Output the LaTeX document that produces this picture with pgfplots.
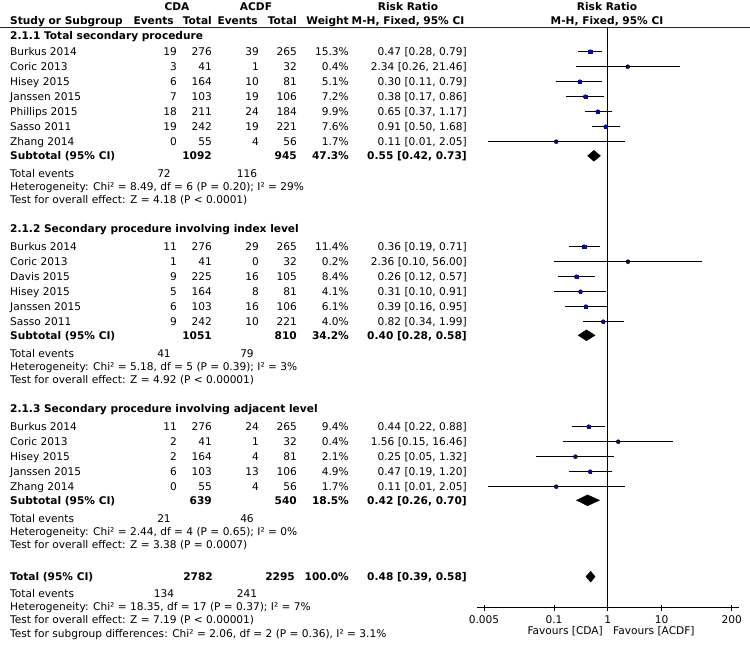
\documentclass[border=0pt]{standalone}
\usepackage{pgfplots}
\pgfplotsset{compat=1.18}
\usepackage{pgfplotstable}
\usepackage{fontspec}
\setmainfont{DejaVu Sans}
\definecolor{sqc}{RGB}{10,10,165}
\newcommand\fs{\fontsize{10.6bp}{12.5bp}\selectfont}

\pgfplotstableread{
y lo est hi w
51.7 0.28 0.47 0.79 15.3
66.7 0.26 2.34 21.46 0.4
81.7 0.11 0.30 0.79 5.1
96.7 0.17 0.38 0.86 7.2
111.7 0.37 0.65 1.17 9.9
126.7 0.50 0.91 1.68 7.6
141.7 0.0059 0.11 2.05 1.7
246.7 0.19 0.36 0.71 11.4
261.7 0.0995 2.36 56.00 0.2
276.7 0.12 0.26 0.57 8.4
291.7 0.10 0.31 0.91 4.1
306.7 0.16 0.39 0.95 6.1
321.7 0.34 0.82 1.99 4.0
426.7 0.22 0.44 0.88 9.4
441.7 0.148 1.56 16.46 0.4
456.7 0.047 0.25 1.32 2.1
471.7 0.19 0.47 1.20 4.9
486.7 0.0059 0.11 2.05 1.7
}\studies

\newcommand\srow[8]{%
 \node[L] at (10,#1) {#2};
 \node[R] at (177,#1) {#3};
 \node[R] at (212,#1) {#4};
 \node[R] at (259,#1) {#5};
 \node[R] at (297,#1) {#6};
 \node[R] at (349,#1) {#7\%};
 \node[R] at (467,#1) {#8};}
\newcommand\subrow[6]{%
 \node[L,font=\fs\bfseries] at (10,#1) {Subtotal (95\% CI)};
 \node[R,font=\fs\bfseries] at (212,#1) {#2};
 \node[R,font=\fs\bfseries] at (297,#1) {#3};
 \node[R,font=\fs\bfseries] at (349,#1) {#4\%};
 \node[R,font=\fs\bfseries] at (467,#1) {#5 [#6]};}
\newcommand\evrow[3]{%
 \node[L] at (10,#1) {Total events};
 \node[C] at (164,#1) {#2};
 \node[C] at (247,#1) {#3};}

\begin{document}
\begin{tikzpicture}[font=\fs]
\path[use as bounding box] (0,0) rectangle (750bp,-645bp);
\begin{scope}[x=1bp,y=-1bp,
  L/.style={anchor=west,inner sep=0pt,text height=7.4bp,text depth=0pt},
  R/.style={anchor=east,inner sep=0pt,text height=7.4bp,text depth=0pt},
  C/.style={anchor=center,inner sep=0pt,text height=7.4bp,text depth=0pt}]
% header
\node[C,font=\fs\bfseries] at (177,7) {CDA};
\node[C,font=\fs\bfseries] at (256,7) {ACDF};
\node[C,font=\fs\bfseries] at (408,7) {Risk Ratio};
\node[C,font=\fs\bfseries] at (607,7) {Risk Ratio};
\node[L,font=\fs\bfseries] at (10,21) {Study or Subgroup};
\node[R,font=\fs\bfseries] at (174,21) {Events};
\node[R,font=\fs\bfseries] at (212,21) {Total};
\node[R,font=\fs\bfseries] at (258,21) {Events};
\node[R,font=\fs\bfseries] at (297,21) {Total};
\node[R,font=\fs\bfseries] at (349,21) {Weight};
\node[C,font=\fs\bfseries] at (408,21) {M-H, Fixed, 95\% CI};
\node[C,font=\fs\bfseries] at (607,21) {M-H, Fixed, 95\% CI};
\draw[line width=0.9bp,black!85] (0,27.7) -- (750,27.7);
% section 1
\node[L,font=\fs\bfseries] at (10,36) {2.1.1 Total secondary procedure};
\srow{51.7}{Burkus 2014}{19}{276}{39}{265}{15.3}{0.47 [0.28, 0.79]}
\srow{66.7}{Coric 2013}{3}{41}{1}{32}{0.4}{2.34 [0.26, 21.46]}
\srow{81.7}{Hisey 2015}{6}{164}{10}{81}{5.1}{0.30 [0.11, 0.79]}
\srow{96.7}{Janssen 2015}{7}{103}{19}{106}{7.2}{0.38 [0.17, 0.86]}
\srow{111.7}{Phillips 2015}{18}{211}{24}{184}{9.9}{0.65 [0.37, 1.17]}
\srow{126.7}{Sasso 2011}{19}{242}{19}{221}{7.6}{0.91 [0.50, 1.68]}
\srow{141.7}{Zhang 2014}{0}{55}{4}{56}{1.7}{0.11 [0.01, 2.05]}
\subrow{155.8}{1092}{945}{47.3}{0.55}{0.42, 0.73}
\evrow{173.3}{72}{116}
\node[L] at (10,186.7) {Heterogeneity: Chi² = 8.49, df = 6 (P = 0.20); I² = 29\%};
\node[L] at (10,200) {Test for overall effect: Z = 4.18 (P < 0.0001)};
% section 2
\node[L,font=\fs\bfseries] at (10,228.3) {2.1.2 Secondary procedure involving index level};
\srow{246.7}{Burkus 2014}{11}{276}{29}{265}{11.4}{0.36 [0.19, 0.71]}
\srow{261.7}{Coric 2013}{1}{41}{0}{32}{0.2}{2.36 [0.10, 56.00]}
\srow{276.7}{Davis 2015}{9}{225}{16}{105}{8.4}{0.26 [0.12, 0.57]}
\srow{291.7}{Hisey 2015}{5}{164}{8}{81}{4.1}{0.31 [0.10, 0.91]}
\srow{306.7}{Janssen 2015}{6}{103}{16}{106}{6.1}{0.39 [0.16, 0.95]}
\srow{321.7}{Sasso 2011}{9}{242}{10}{221}{4.0}{0.82 [0.34, 1.99]}
\subrow{335.3}{1051}{810}{34.2}{0.40}{0.28, 0.58}
\evrow{353.3}{41}{79}
\node[L] at (10,366.7) {Heterogeneity: Chi² = 5.18, df = 5 (P = 0.39); I² = 3\%};
\node[L] at (10,380) {Test for overall effect: Z = 4.92 (P < 0.00001)};
% section 3
\node[L,font=\fs\bfseries] at (10,408.3) {2.1.3 Secondary procedure involving adjacent level};
\srow{426.7}{Burkus 2014}{11}{276}{24}{265}{9.4}{0.44 [0.22, 0.88]}
\srow{441.7}{Coric 2013}{2}{41}{1}{32}{0.4}{1.56 [0.15, 16.46]}
\srow{456.7}{Hisey 2015}{2}{164}{4}{81}{2.1}{0.25 [0.05, 1.32]}
\srow{471.7}{Janssen 2015}{6}{103}{13}{106}{4.9}{0.47 [0.19, 1.20]}
\srow{486.7}{Zhang 2014}{0}{55}{4}{56}{1.7}{0.11 [0.01, 2.05]}
\subrow{500.3}{639}{540}{18.5}{0.42}{0.26, 0.70}
\evrow{518.3}{21}{46}
\node[L] at (10,531.7) {Heterogeneity: Chi² = 2.44, df = 4 (P = 0.65); I² = 0\%};
\node[L] at (10,545) {Test for overall effect: Z = 3.38 (P = 0.0007)};
% total
\node[L,font=\fs\bfseries] at (10,576.7) {Total (95\% CI)};
\node[R,font=\fs\bfseries] at (213,576.7) {2782};
\node[R,font=\fs\bfseries] at (295,576.7) {2295};
\node[R,font=\fs\bfseries] at (349,576.7) {100.0\%};
\node[R,font=\fs\bfseries] at (467,576.7) {0.48 [0.39, 0.58]};
\evrow{593.3}{134}{241}
\node[L] at (10,606.7) {Heterogeneity: Chi² = 18.35, df = 17 (P = 0.37); I² = 7\%};
\node[L] at (10,620) {Test for overall effect: Z = 7.19 (P < 0.00001)};
\node[L] at (10,633.3) {Test for subgroup differences: Chi² = 2.06, df = 2 (P = 0.36), I² = 3.1\%};
\node[R] at (603,631) {Favours [CDA]};
\node[L] at (613,631) {Favours [ACDF]};
\end{scope}

\begin{axis}[
  at={(476.7bp,-607.7bp)}, anchor=south west,
  scale only axis, width=262.3bp, height=580bp,
  xmode=log, xmin=0.00366, xmax=273,
  ymin=-607.7, ymax=-27.7,
  axis x line=bottom, axis y line=none,
  axis line style={-, line width=0.8bp, black},
  xtick={0.005,0.1,1,10,200},
  xticklabels={0.005,0.1,1,10,200},
  minor xtick={}, xminorticks=false,
  tick align=center, major tick length=6bp,
  tick style={line width=0.8bp, black},
  xticklabel style={font=\fs, inner sep=0pt, text height=7.4bp, text depth=0pt, yshift=-5.6bp},
  clip=false,
]
\addplot[black, line width=0.8bp] coordinates {(1,-27.7) (1,-607.7)};
\addplot[only marks, mark=none, forget plot,
  error bars/.cd, x dir=both, x explicit, error mark=none,
  error bar style={line width=0.6bp, black}]
  table[x=est, y expr=-\thisrow{y},
        x error plus expr=\thisrow{hi}-\thisrow{est},
        x error minus expr=\thisrow{est}-\thisrow{lo}] {\studies};
\addplot[scatter, only marks, mark=square*,
  scatter/use mapped color={draw=sqc, fill=sqc},
  visualization depends on={0.4+0.4*sqrt(\thisrow{w}) \as \msz},
  scatter/@pre marker code/.append style={/tikz/mark size=\msz}]
  table[x=est, y expr=-\thisrow{y}] {\studies};
% diamonds
\addplot[fill=black, draw=black, line width=0.3bp] coordinates {(0.42,-155.8) (0.55,-150.3) (0.73,-155.8) (0.55,-161.3)} -- cycle;
\addplot[fill=black, draw=black, line width=0.3bp] coordinates {(0.28,-335.3) (0.40,-329.8) (0.58,-335.3) (0.40,-340.8)} -- cycle;
\addplot[fill=black, draw=black, line width=0.3bp] coordinates {(0.26,-500.3) (0.42,-494.8) (0.70,-500.3) (0.42,-505.8)} -- cycle;
\addplot[fill=black, draw=black, line width=0.3bp] coordinates {(0.39,-576.7) (0.48,-571.2) (0.58,-576.7) (0.48,-582.2)} -- cycle;
\end{axis}
\end{tikzpicture}
\end{document}
